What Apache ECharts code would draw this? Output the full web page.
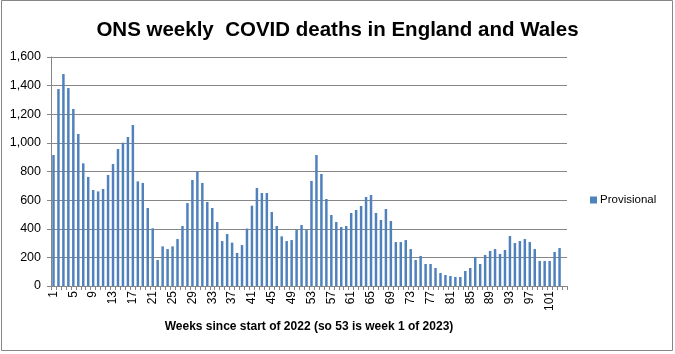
<!DOCTYPE html>
<html>
<head>
<meta charset="utf-8">
<script src="https://cdn.jsdelivr.net/npm/echarts@6/dist/echarts.min.js"></script>
<style>
  html, body { margin: 0; padding: 0; background: #fff; }
  #main { width: 675px; height: 354px; }
</style>
</head>
<body>
<div id="main"></div>
<script>
// weeks since start of 2022 (53 = week 1 of 2023), last slot is empty
var weeks = []
for (var i = 1; i <= 104; i++) weeks.push(String(i))

var provisional = [
  915, 1376, 1481, 1383, 1237, 1062, 857, 762, 671, 661,
  678, 776, 852, 957, 1001, 1041, 1125, 731, 720, 545,
  403, 182, 277, 258, 277, 328, 419, 580, 741, 801,
  720, 587, 545, 447, 314, 363, 303, 231, 286, 401,
  561, 685, 650, 650, 517, 419, 347, 314, 321, 391,
  426, 391, 734, 915, 783, 608, 496, 447, 412, 419,
  510, 531, 559, 622, 636, 510, 461, 538, 454, 307,
  307, 321, 258, 182, 210, 154, 154, 126, 91, 77,
  70, 63, 63, 105, 126, 203, 154, 217, 245, 258,
  224, 252, 349, 300, 314, 328, 307, 258, 175, 175,
  175, 238, 265, null
]

var yTicks = [0, 1600, 200] // min, max, step

var myChart = echarts.init(document.getElementById('main'))
var font = 'Liberation Sans, Arial, sans-serif'

var option = {
  animation: false,
  title: {
    text: 'ONS weekly  COVID deaths in England and Wales',
    left: 'center',
    top: 15,
    textStyle: { fontFamily: font, fontSize: 20.5, fontWeight: 'bold', color: '#000' }
  },
  legend: {
    data: ['Provisional'],
    left: 585,
    top: 189,
    icon: 'rect',
    itemWidth: 7,
    itemHeight: 7,
    itemGap: 4,
    textStyle: { fontFamily: font, fontSize: 11.5, color: '#000', padding: [0, 0, 0, -2] }
  },
  grid: { left: 51, right: 108, top: 57, bottom: 68 },
  xAxis: {
    type: 'category',
    data: weeks,
    name: 'Weeks since start of 2022 (so 53 is week 1 of 2023)',
    nameLocation: 'middle',
    nameGap: 35,
    nameTextStyle: { fontFamily: font, fontSize: 12, fontWeight: 'bold', color: '#000' },
    axisLine: { lineStyle: { color: '#868686' } },
    axisTick: { show: true, interval: 0, length: 4, lineStyle: { color: '#868686' } },
    axisLabel: { interval: 3, rotate: 90, margin: 5, fontFamily: font, fontSize: 12, color: '#000' }
  },
  yAxis: {
    type: 'value',
    min: yTicks[0],
    max: yTicks[1],
    interval: yTicks[2],
    axisLine: { show: true, lineStyle: { color: '#868686' } },
    axisTick: { show: true, length: 4, lineStyle: { color: '#868686' } },
    splitLine: { lineStyle: { color: '#868686' } },
    axisLabel: {
      margin: 10,
      fontFamily: font,
      fontSize: 12.5,
      color: '#000',
      formatter: function (v) { return v.toLocaleString('en-US') }
    }
  },
  series: [
    {
      name: 'Provisional',
      type: 'bar',
      data: provisional,
      barCategoryGap: '50%',
      itemStyle: { color: '#4F81BD' }
    }
  ],
  graphic: [
    {
      type: 'rect',
      shape: { x: 1.5, y: 0.5, width: 671, height: 350 },
      style: { fill: 'none', stroke: '#868686', lineWidth: 1 },
      silent: true
    }
  ]
}

myChart.setOption(option)
</script>
</body>
</html>
